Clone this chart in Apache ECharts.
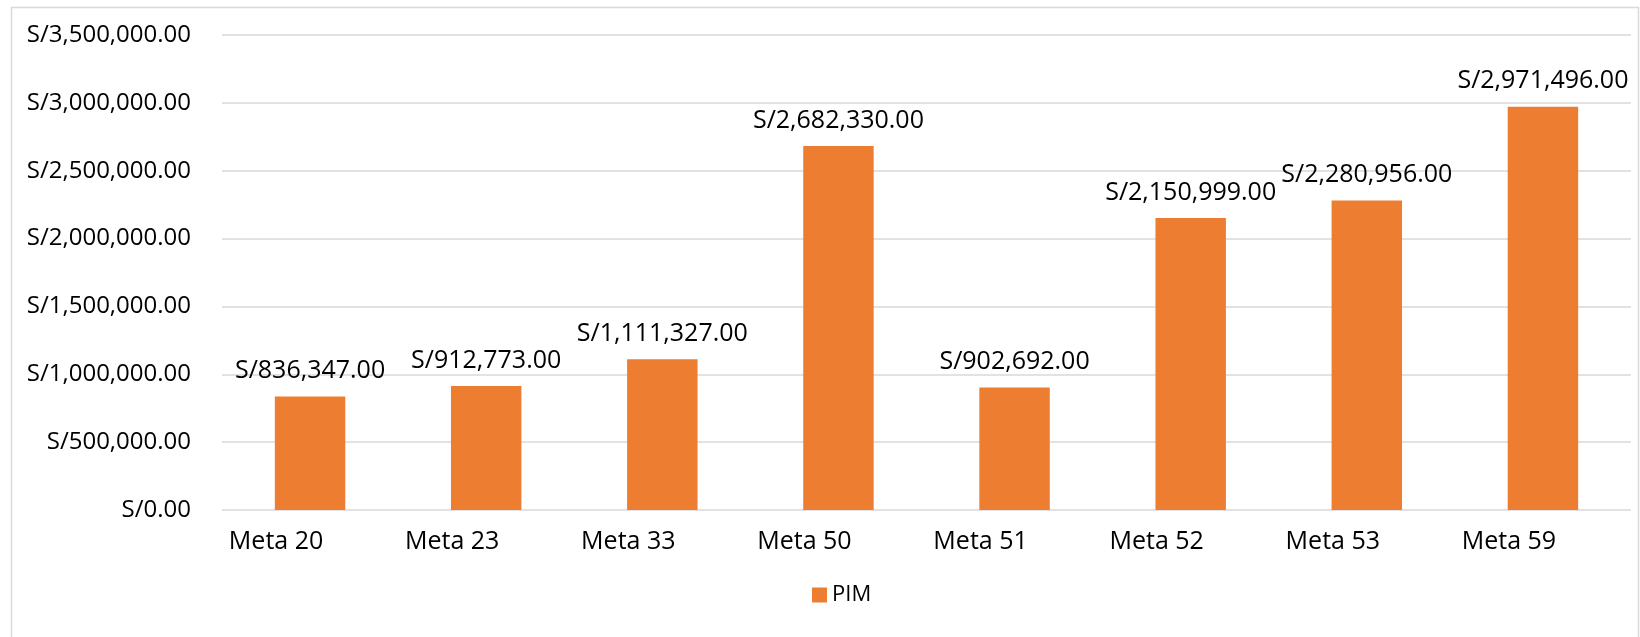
<!DOCTYPE html>
<html>

<head>
  <meta charset="utf-8">
  <title>PIM</title>
  <style>
  html, body {
    margin: 0;
    padding: 0;
    background: #fff;
  }

  #chart {
    width: 1640px;
    height: 637px;
  }
  </style>
</head>

<body>
  <div id="chart"></div>
  <script src="https://cdn.jsdelivr.net/npm/echarts@6/dist/echarts.min.js"></script>
  <script>
  const categories = ['Meta 20', 'Meta 23', 'Meta 33', 'Meta 50', 'Meta 51', 'Meta 52', 'Meta 53', 'Meta 59'];
  const pimValues = [836347, 912773, 1111327, 2682330, 902692, 2150999, 2280956, 2971496];
  const seriesName = 'PIM';

  const fontFamily = '"Open Sans", "Noto Sans", sans-serif';
  const textColor = '#000';

  // formato moneda soles: S/1,234.00
  function soles(v) {
    return 'S/' + Number(v).toLocaleString('en-US', {
      minimumFractionDigits: 2,
      maximumFractionDigits: 2
    });
  }

  let option = {
    animation: false,
    backgroundColor: '#fff',
    textStyle: {
      fontFamily: fontFamily
    },
    graphic: [{
      type: 'rect',
      left: 9,
      top: 5,
      shape: { width: 1627, height: 660 },
      style: { fill: 'none', stroke: '#d9d9d9', lineWidth: 1.5 },
      silent: true
    }],
    grid: {
      left: 222,
      right: 9,
      top: 35,
      bottom: 127,
      containLabel: false
    },
    legend: {
      data: [seriesName],
      bottom: 26,
      left: 807,
      itemWidth: 15,
      itemHeight: 15,
      itemGap: 6,
      icon: 'rect',
      textStyle: {
        fontFamily: fontFamily,
        fontSize: 22,
        color: textColor
      }
    },
    xAxis: {
      type: 'category',
      data: categories,
      axisLine: { show: false },
      axisTick: { show: false },
      axisLabel: {
        fontFamily: fontFamily,
        fontSize: 25,
        color: textColor,
        margin: 19,
        padding: [0, 68, 0, 0]
      }
    },
    yAxis: {
      type: 'value',
      min: 0,
      max: 3500000,
      interval: 500000,
      axisLine: { show: false },
      axisTick: { show: false },
      splitLine: {
        lineStyle: { color: '#d9d9d9', width: 1.5 }
      },
      axisLabel: {
        fontFamily: fontFamily,
        fontSize: 24,
        color: textColor,
        margin: 31,
        formatter: v => soles(v)
      }
    },
    series: [{
      name: seriesName,
      type: 'bar',
      data: pimValues,
      barCategoryGap: '60%',
      itemStyle: { color: '#ED7D31' },
      label: {
        show: true,
        position: 'top',
        distance: 13,
        fontFamily: fontFamily,
        fontSize: 25,
        color: textColor,
        formatter: p => soles(p.value)
      }
    }]
  };

  let myChart = echarts.init(document.getElementById('chart'));
  myChart.setOption(option);
  </script>
</body>

</html>
